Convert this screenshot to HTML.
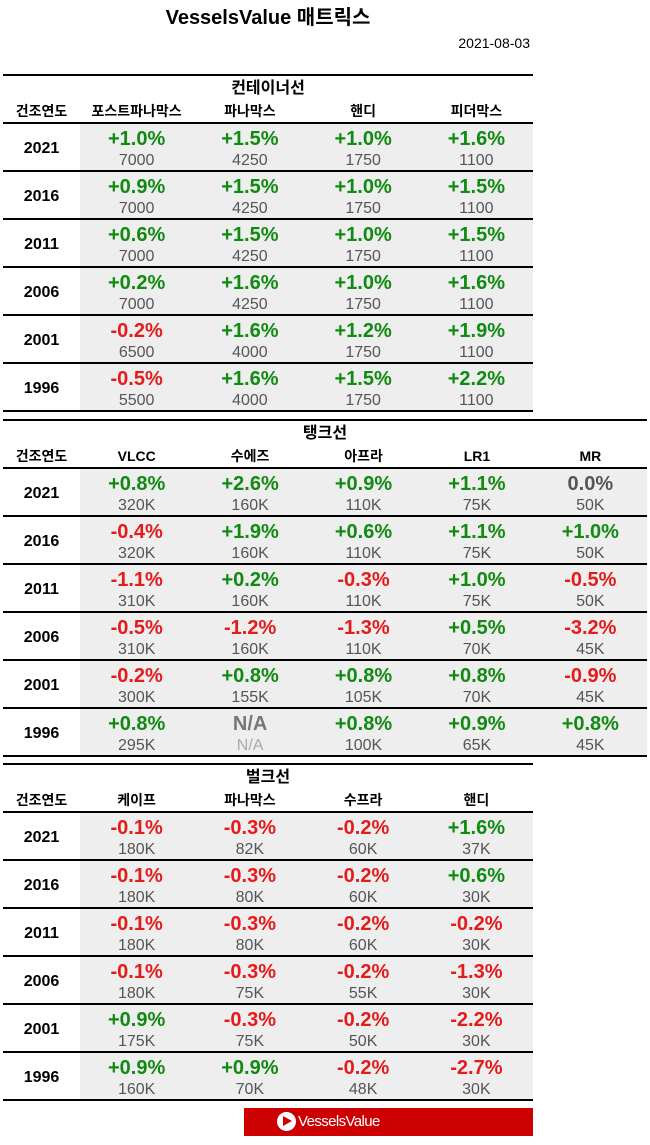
<!DOCTYPE html>
<html><head><meta charset="utf-8">
<style>
*{margin:0;padding:0;box-sizing:border-box}
body{width:650px;height:1145px;background:#fff;position:relative;overflow:hidden;font-family:"Liberation Sans","Noto Sans CJK KR",sans-serif;color:#000}
.title{position:absolute;left:0;top:6px;width:536px;text-align:center;font-size:20px;font-weight:bold;line-height:24px}
.date{position:absolute;right:120px;top:34px;font-size:14px;line-height:18px}
.sec{position:absolute;left:3px;border-top:2px solid #000}
.ttl{height:22px;line-height:26px;text-align:center;font-weight:bold;font-size:16px}
.hdr{height:24px;display:flex;font-weight:bold;font-size:14px;line-height:26px}
.row{display:flex;border-top:2px solid #000;height:48px}
.row:last-child{border-bottom:2px solid #000;height:50px}
.y{width:77px;text-align:center;flex:none}
.row .y{font-weight:bold;font-size:16px;line-height:46px;padding-top:2px}
.c{flex:1;text-align:center}
.row .c{background:#eeeeee}
.c b{display:block;font-size:20px;line-height:22px;padding-top:4px}
.c i{display:block;font-style:normal;font-size:16px;line-height:18px;color:#555;margin-top:2px}
.g{color:#108a10}.r{color:#e41b1b}.n{color:#555}.na{color:#777}.na2{color:#aaa!important}
.logo{position:absolute;left:244px;top:1108px;width:289px;height:28px;background:#cc0000}
.ic{position:absolute;left:33px;top:4px;width:19px;height:19px;border-radius:50%;background:#fff}
.ic:after{content:"";position:absolute;left:6px;top:4px;border-left:9px solid #cc0000;border-top:5.5px solid transparent;border-bottom:5.5px solid transparent}
.lt{position:absolute;left:54px;top:0;line-height:28px;color:#fff;font-size:15px;letter-spacing:-0.6px}
</style></head><body>
<div class="title">VesselsValue 매트릭스</div>
<div class="date">2021-08-03</div>

<div class="sec" style="top:74px;width:530px">
<div class="ttl">컨테이너선</div>
<div class="hdr"><div class="y">건조연도</div><div class="c">포스트파나막스</div><div class="c">파나막스</div><div class="c">핸디</div><div class="c">피더막스</div></div>
<div class="row"><div class="y">2021</div><div class="c"><b class="g">+1.0%</b><i>7000</i></div><div class="c"><b class="g">+1.5%</b><i>4250</i></div><div class="c"><b class="g">+1.0%</b><i>1750</i></div><div class="c"><b class="g">+1.6%</b><i>1100</i></div></div>
<div class="row"><div class="y">2016</div><div class="c"><b class="g">+0.9%</b><i>7000</i></div><div class="c"><b class="g">+1.5%</b><i>4250</i></div><div class="c"><b class="g">+1.0%</b><i>1750</i></div><div class="c"><b class="g">+1.5%</b><i>1100</i></div></div>
<div class="row"><div class="y">2011</div><div class="c"><b class="g">+0.6%</b><i>7000</i></div><div class="c"><b class="g">+1.5%</b><i>4250</i></div><div class="c"><b class="g">+1.0%</b><i>1750</i></div><div class="c"><b class="g">+1.5%</b><i>1100</i></div></div>
<div class="row"><div class="y">2006</div><div class="c"><b class="g">+0.2%</b><i>7000</i></div><div class="c"><b class="g">+1.6%</b><i>4250</i></div><div class="c"><b class="g">+1.0%</b><i>1750</i></div><div class="c"><b class="g">+1.6%</b><i>1100</i></div></div>
<div class="row"><div class="y">2001</div><div class="c"><b class="r">-0.2%</b><i>6500</i></div><div class="c"><b class="g">+1.6%</b><i>4000</i></div><div class="c"><b class="g">+1.2%</b><i>1750</i></div><div class="c"><b class="g">+1.9%</b><i>1100</i></div></div>
<div class="row"><div class="y">1996</div><div class="c"><b class="r">-0.5%</b><i>5500</i></div><div class="c"><b class="g">+1.6%</b><i>4000</i></div><div class="c"><b class="g">+1.5%</b><i>1750</i></div><div class="c"><b class="g">+2.2%</b><i>1100</i></div></div>
</div>

<div class="sec" style="top:419px;width:644px">
<div class="ttl">탱크선</div>
<div class="hdr"><div class="y">건조연도</div><div class="c">VLCC</div><div class="c">수에즈</div><div class="c">아프라</div><div class="c">LR1</div><div class="c">MR</div></div>
<div class="row"><div class="y">2021</div><div class="c"><b class="g">+0.8%</b><i>320K</i></div><div class="c"><b class="g">+2.6%</b><i>160K</i></div><div class="c"><b class="g">+0.9%</b><i>110K</i></div><div class="c"><b class="g">+1.1%</b><i>75K</i></div><div class="c"><b class="n">0.0%</b><i>50K</i></div></div>
<div class="row"><div class="y">2016</div><div class="c"><b class="r">-0.4%</b><i>320K</i></div><div class="c"><b class="g">+1.9%</b><i>160K</i></div><div class="c"><b class="g">+0.6%</b><i>110K</i></div><div class="c"><b class="g">+1.1%</b><i>75K</i></div><div class="c"><b class="g">+1.0%</b><i>50K</i></div></div>
<div class="row"><div class="y">2011</div><div class="c"><b class="r">-1.1%</b><i>310K</i></div><div class="c"><b class="g">+0.2%</b><i>160K</i></div><div class="c"><b class="r">-0.3%</b><i>110K</i></div><div class="c"><b class="g">+1.0%</b><i>75K</i></div><div class="c"><b class="r">-0.5%</b><i>50K</i></div></div>
<div class="row"><div class="y">2006</div><div class="c"><b class="r">-0.5%</b><i>310K</i></div><div class="c"><b class="r">-1.2%</b><i>160K</i></div><div class="c"><b class="r">-1.3%</b><i>110K</i></div><div class="c"><b class="g">+0.5%</b><i>70K</i></div><div class="c"><b class="r">-3.2%</b><i>45K</i></div></div>
<div class="row"><div class="y">2001</div><div class="c"><b class="r">-0.2%</b><i>300K</i></div><div class="c"><b class="g">+0.8%</b><i>155K</i></div><div class="c"><b class="g">+0.8%</b><i>105K</i></div><div class="c"><b class="g">+0.8%</b><i>70K</i></div><div class="c"><b class="r">-0.9%</b><i>45K</i></div></div>
<div class="row"><div class="y">1996</div><div class="c"><b class="g">+0.8%</b><i>295K</i></div><div class="c"><b class="na">N/A</b><i class="na2">N/A</i></div><div class="c"><b class="g">+0.8%</b><i>100K</i></div><div class="c"><b class="g">+0.9%</b><i>65K</i></div><div class="c"><b class="g">+0.8%</b><i>45K</i></div></div>
</div>

<div class="sec" style="top:763px;width:530px">
<div class="ttl">벌크선</div>
<div class="hdr"><div class="y">건조연도</div><div class="c">케이프</div><div class="c">파나막스</div><div class="c">수프라</div><div class="c">핸디</div></div>
<div class="row"><div class="y">2021</div><div class="c"><b class="r">-0.1%</b><i>180K</i></div><div class="c"><b class="r">-0.3%</b><i>82K</i></div><div class="c"><b class="r">-0.2%</b><i>60K</i></div><div class="c"><b class="g">+1.6%</b><i>37K</i></div></div>
<div class="row"><div class="y">2016</div><div class="c"><b class="r">-0.1%</b><i>180K</i></div><div class="c"><b class="r">-0.3%</b><i>80K</i></div><div class="c"><b class="r">-0.2%</b><i>60K</i></div><div class="c"><b class="g">+0.6%</b><i>30K</i></div></div>
<div class="row"><div class="y">2011</div><div class="c"><b class="r">-0.1%</b><i>180K</i></div><div class="c"><b class="r">-0.3%</b><i>80K</i></div><div class="c"><b class="r">-0.2%</b><i>60K</i></div><div class="c"><b class="r">-0.2%</b><i>30K</i></div></div>
<div class="row"><div class="y">2006</div><div class="c"><b class="r">-0.1%</b><i>180K</i></div><div class="c"><b class="r">-0.3%</b><i>75K</i></div><div class="c"><b class="r">-0.2%</b><i>55K</i></div><div class="c"><b class="r">-1.3%</b><i>30K</i></div></div>
<div class="row"><div class="y">2001</div><div class="c"><b class="g">+0.9%</b><i>175K</i></div><div class="c"><b class="r">-0.3%</b><i>75K</i></div><div class="c"><b class="r">-0.2%</b><i>50K</i></div><div class="c"><b class="r">-2.2%</b><i>30K</i></div></div>
<div class="row"><div class="y">1996</div><div class="c"><b class="g">+0.9%</b><i>160K</i></div><div class="c"><b class="g">+0.9%</b><i>70K</i></div><div class="c"><b class="r">-0.2%</b><i>48K</i></div><div class="c"><b class="r">-2.7%</b><i>30K</i></div></div>
</div>

<div class="logo"><div class="ic"></div><div class="lt">VesselsValue</div></div>
</body></html>
